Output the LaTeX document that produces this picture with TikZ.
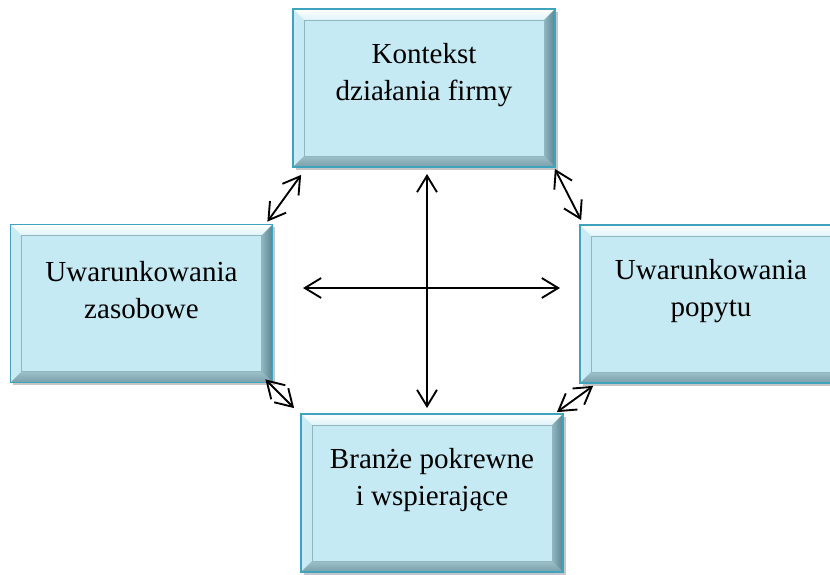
\documentclass[tikz,border=0pt]{standalone}
\usepackage{fontspec}
\setmainfont{Liberation Serif}
\usetikzlibrary{arrows.meta,shadows,calc,positioning}
\definecolor{boxFace}{HTML}{C5EAF3}
\definecolor{boxEdge}{HTML}{3FA3BE}
\definecolor{bevelTop}{HTML}{DDF3F8}
\definecolor{bevelLeft}{HTML}{CBEBF3}
\definecolor{bevelBottom}{HTML}{7A9FA9}
\definecolor{bevelRight}{HTML}{5B8490}
\newcommand{\bevelw}{0.33cm}
\tikzset{
        % Bevelled boxes
        box_bevel/.style={rectangle, draw=boxEdge, line width=1.5pt, fill=boxFace,
            minimum width=7.86cm, minimum height=4.74cm, inner sep=0pt,
            drop shadow={shadow xshift=2.5pt, shadow yshift=-2.5pt, opacity=0.45},
            path picture={
                \coordinate (bnw) at (path picture bounding box.north west);
                \coordinate (bse) at (path picture bounding box.south east);
                \coordinate (bne) at (bnw -| bse);
                \coordinate (bsw) at (bse -| bnw);
                \coordinate (inw) at ($(bnw)+(\bevelw,-\bevelw)$);
                \coordinate (ine) at ($(bne)+(-\bevelw,-\bevelw)$);
                \coordinate (ise) at ($(bse)+(-\bevelw,\bevelw)$);
                \coordinate (isw) at ($(bsw)+(\bevelw,\bevelw)$);
                \shade[top color=white, bottom color=bevelTop] (bnw) -- (bne) -- (ine) -- (inw) -- cycle;
                \shade[left color=bevelLeft, right color=boxFace] (bnw) -- (inw) -- (isw) -- (bsw) -- cycle;
                \shade[top color=bevelBottom!55!boxFace, bottom color=bevelBottom] (bsw) -- (isw) -- (ise) -- (bse) -- cycle;
                \shade[left color=bevelRight!50!boxFace, right color=bevelRight] (bne) -- (bse) -- (ise) -- (ine) -- cycle;
                \draw[bevelBottom!70!boxFace, line width=0.5pt] (inw) rectangle (ise);
            }},
        % Box texts
        box_text/.style={align=center, inner sep=0pt, font=\fontsize{24.8}{31.6}\selectfont},
        % Two-way arrows
        arrow_both/.style={{Straight Barb[length=14pt,width=17pt]}-{Straight Barb[length=14pt,width=17pt]}, line width=1.6pt, black}
}
\begin{document}
\begin{tikzpicture}[x=0.03cm, y=-0.03cm]
    \useasboundingbox (0,0) rectangle (830,574);
    % Boxes
    \node[box_bevel] (kontekst) at (424,88) {};
    \node[box_bevel] (zasoby) at (141.5,303.5) {};
    \node[box_bevel] (popyt) at (711,304) {};
    \node[box_bevel] (branze) at (432,493) {};
    % Texts
    \node[box_text] (kontekst_txt) at ([yshift=0.4cm]kontekst.center) {Kontekst\\działania firmy};
    \node[box_text] (zasoby_txt) at ([yshift=0.4cm]zasoby.center) {Uwarunkowania\\zasobowe};
    \node[box_text] (popyt_txt) at ([yshift=0.4cm]popyt.center) {Uwarunkowania\\popytu};
    \node[box_text] (branze_txt) at ([yshift=0.4cm]branze.center) {Branże pokrewne\\i wspierające};
    % Arrows between boxes
    \draw[arrow_both] ([shift={(0.27cm,-0.21cm)}]kontekst.south west) -- ([shift={(-0.18cm,0.06cm)}]zasoby.north east);
    \draw[arrow_both] ([shift={(-0.03cm,-0.03cm)}]kontekst.south east) -- ([shift={(0.06cm,0.12cm)}]popyt.north west);
    \draw[arrow_both] ([shift={(-0.24cm,0.12cm)}]zasoby.south east) -- ([shift={(-0.18cm,0.15cm)}]branze.north west);
    \draw[arrow_both] ([shift={(0.42cm,-0.06cm)}]popyt.south west) -- ([shift={(-0.21cm,0.03cm)}]branze.north east);
    % Cross in the middle
    \coordinate (cross_top) at (427,174);
    \coordinate (cross_bottom) at (427,408);
    \coordinate (cross_left) at (303,288);
    \coordinate (cross_right) at (560,288);
    \draw[arrow_both] (cross_top) -- (cross_bottom);
    \draw[arrow_both] (cross_left) -- (cross_right);
\end{tikzpicture}
\end{document}
